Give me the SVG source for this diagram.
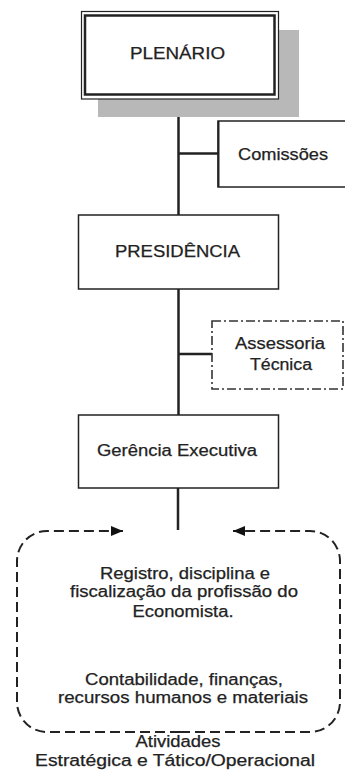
<svg xmlns="http://www.w3.org/2000/svg" width="345" height="776" viewBox="0 0 345 776">
<defs>
<style>
text{font-family:"Liberation Sans",Arial,sans-serif;font-size:16px;fill:#222;text-anchor:middle;stroke:#222;stroke-width:0.25}
.box{fill:#fff;stroke:#222;stroke-width:1.5}
.ln{stroke:#222;stroke-width:2.5;fill:none}
.dash{stroke:#222;stroke-width:2;fill:none;stroke-dasharray:10 5}
.dd{fill:#fff;stroke:#333;stroke-width:1.6;stroke-dasharray:9 3 2 3}
</style>
<marker id="ah" viewBox="0 0 12 10" refX="12" refY="5" markerWidth="12" markerHeight="10" markerUnits="userSpaceOnUse" orient="auto">
<path d="M0,0 L12,5 L0,10 Z" fill="#111"/>
</marker>
</defs>
<rect width="345" height="776" fill="#fff"/>
<g id="connectors">
<line class="ln" x1="178.5" y1="99" x2="178.5" y2="215"/>
<line class="ln" x1="178.5" y1="153.5" x2="218" y2="153.5" stroke-width="2"/>
<line class="ln" x1="178.5" y1="289" x2="178.5" y2="415"/>
<line class="ln" x1="178.5" y1="354" x2="212" y2="354" stroke-width="2"/>
<line class="ln" x1="178" y1="488" x2="178" y2="530" stroke="#444" stroke-width="2"/>
</g>
<g id="plenario">
<rect x="98" y="30" width="201" height="87" fill="#b8b8b8"/>
<rect x="81.5" y="11.5" width="197" height="87.5" fill="#fff" stroke="#222" stroke-width="1.2"/>
<rect x="85" y="15.5" width="189.5" height="79" fill="none" stroke="#222" stroke-width="2.5"/>
<text x="177.5" y="59" textLength="95" lengthAdjust="spacingAndGlyphs">PLENÁRIO</text>
</g>
<g id="comissoes">
<rect class="box" x="218" y="121" width="130" height="66"/>
<line x1="218.5" y1="121" x2="218.5" y2="187" stroke="#222" stroke-width="2"/>
<text x="283" y="160" textLength="90" lengthAdjust="spacingAndGlyphs">Comissões</text>
</g>
<g id="presidencia">
<rect class="box" x="78.5" y="215" width="200" height="74"/>
<text x="177.5" y="257" textLength="125" lengthAdjust="spacingAndGlyphs">PRESIDÊNCIA</text>
</g>
<g id="assessoria">
<rect class="dd" x="212" y="321" width="131" height="68"/>
<text x="280" y="349" textLength="90" lengthAdjust="spacingAndGlyphs">Assessoria</text>
<text x="281" y="370" textLength="62" lengthAdjust="spacingAndGlyphs">Técnica</text>
</g>
<g id="gerencia">
<rect class="box" x="78.5" y="415" width="200" height="73"/>
<text x="177" y="456" textLength="160" lengthAdjust="spacingAndGlyphs">Gerência Executiva</text>
</g>
<g id="atividades">
<path class="dash" d="M180,732 L47,732 A30,30 0 0 1 17,702 L17,561 A30,30 0 0 1 47,531 L123,531" marker-end="url(#ah)"/>
<path class="dash" d="M180,732 L310,732 A30,30 0 0 0 340,702 L340,561 A30,30 0 0 0 310,531 L233,531" marker-end="url(#ah)"/>
<text x="185" y="579" textLength="170" lengthAdjust="spacingAndGlyphs">Registro, disciplina e</text>
<text x="184" y="597" textLength="228" lengthAdjust="spacingAndGlyphs">fiscalização da profissão do</text>
<text x="183" y="617" textLength="101" lengthAdjust="spacingAndGlyphs">Economista.</text>
<text x="184" y="685" textLength="198" lengthAdjust="spacingAndGlyphs">Contabilidade, finanças,</text>
<text x="183" y="703" textLength="250" lengthAdjust="spacingAndGlyphs">recursos humanos e materiais</text>
<text x="178" y="747" textLength="85" lengthAdjust="spacingAndGlyphs">Atividades</text>
<text x="175" y="766" textLength="280" lengthAdjust="spacingAndGlyphs">Estratégica e Tático/Operacional</text>
</g>
</svg>
